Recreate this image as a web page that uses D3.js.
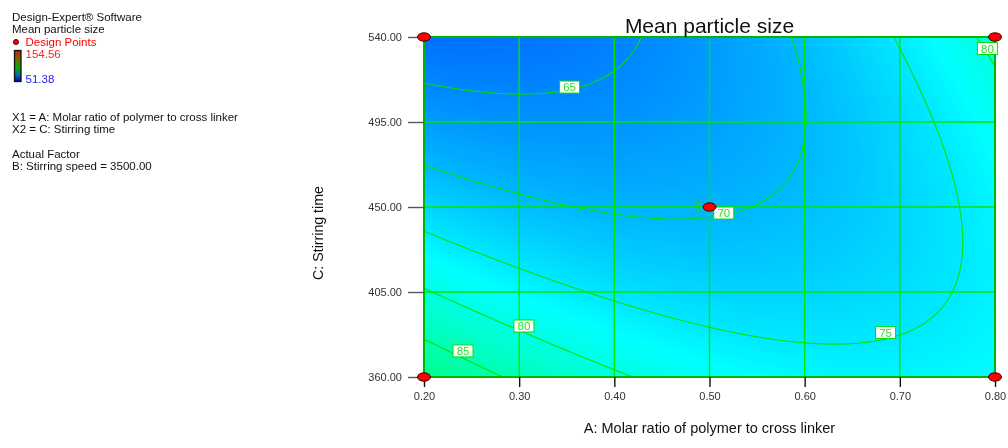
<!DOCTYPE html>
<html>
<head>
<meta charset="utf-8">
<script src="https://cdn.jsdelivr.net/npm/d3@7"></script>
<style>
  html, body { margin: 0; padding: 0; background: #fff; }
  #chart { position: relative; width: 1008px; height: 448px; overflow: hidden;
           font-family: Arial, "Liberation Sans", sans-serif; }
  #chart canvas, #chart svg { position: absolute; left: 0; top: 0; }
</style>
</head>
<body>
<div id="chart"></div>
<script>
// ---- factor ranges and ticks (actual units) ----
const factorA = [0.2, 0.8];            // A: Molar ratio of polymer to cross linker
const factorC = [360, 540];            // C: Stirring time
const ticksA = [0.2, 0.3, 0.4, 0.5, 0.6, 0.7, 0.8];
const ticksC = [360, 405, 450, 495, 540];

// ---- quadratic model in coded factors (B held at 3500) ----
const modelTerms = ["Intercept", "A", "C", "AC", "A^2", "C^2"];
const modelCoef  = [69.65, 1.66, -5.56, 7.58, 5.08, 2.83];

// ---- response colour range ----
const responseRange = [51.38, 154.56];
const contourLevels = [65, 70, 75, 80, 85];

// ---- design points ----
const pointA = [0.2, 0.2, 0.8, 0.8, 0.5];
const pointC = [360, 540, 360, 540, 450];
const pointRuns = [1, 1, 1, 1, 5];

// ---- contour labels ----
const labelLevel = [65, 70, 75, 80, 85, 80];
const labelA = [0.353, 0.515, 0.685, 0.305, 0.241, 0.792];
const labelC = [513.5, 446.8, 383.6, 387.0, 373.8, 533.9];

// ---- legend text ----
const legendLines = ["Design-Expert\u00AE Software", "Mean particle size"];
const factorLines = ["X1 = A: Molar ratio of polymer to cross linker", "X2 = C: Stirring time"];
const actualLines = ["Actual Factor", "B: Stirring speed = 3500.00"];

const W = 1008, H = 448;
const x = d3.scaleLinear().domain(factorA).range([424, 995]);
const y = d3.scaleLinear().domain(factorC).range([377, 37]);
const px0 = x.range()[0], px1 = x.range()[1];
const py0 = y.range()[1], py1 = y.range()[0];

function coded(v, r) { return (2 * v - (r[0] + r[1])) / (r[1] - r[0]); }
function predict(a, c) {
  const u = coded(a, factorA), v = coded(c, factorC);
  const t = [1, u, v, u * v, u * u, v * v];
  return d3.sum(t, (d, i) => d * modelCoef[i]);
}

// colour ramp blue -> cyan -> green -> yellow -> red across the response range
const stops = d3.range(5).map(i => responseRange[0] + i * (responseRange[1] - responseRange[0]) / 4);
const colour = d3.scaleLinear().domain(stops)
  .range(["#0000ff", "#00ffff", "#00ff00", "#ffff00", "#ff0000"]).clamp(true);

const chart = d3.select("#chart");

// ---- filled response surface ----
const canvas = chart.append("canvas").attr("width", W).attr("height", H).node();
const ctx = canvas.getContext("2d");
const lut = d3.range(1024).map(i => d3.rgb(colour(responseRange[0] + i / 1023 * (responseRange[1] - responseRange[0]))));
const iw = Math.round(px1 - px0), ih = Math.round(py1 - py0);
const img = ctx.createImageData(iw, ih);
for (let j = 0; j < ih; j++) {
  const c = y.invert(py0 + j + 0.5);
  for (let i = 0; i < iw; i++) {
    const z = predict(x.invert(px0 + i + 0.5), c);
    const k = Math.max(0, Math.min(1023, Math.round((z - responseRange[0]) / (responseRange[1] - responseRange[0]) * 1023)));
    const col = lut[k], o = (j * iw + i) * 4;
    img.data[o] = col.r; img.data[o + 1] = col.g; img.data[o + 2] = col.b; img.data[o + 3] = 255;
  }
}
ctx.putImageData(img, Math.round(px0), Math.round(py0));

const svg = chart.append("svg").attr("width", W).attr("height", H);

svg.append("defs").append("clipPath").attr("id", "plotClip")
  .append("rect").attr("x", px0).attr("y", py0).attr("width", px1 - px0).attr("height", py1 - py0);

// ---- grid lines ----
const grid = svg.append("g");
grid.selectAll("line.gx").data(ticksA.slice(1, -1)).join("line")
  .attr("x1", d => x(d)).attr("x2", d => x(d)).attr("y1", py0).attr("y2", py1)
  .attr("stroke", "#00e400").attr("stroke-width", 1.4);
grid.selectAll("line.gy").data(ticksC.slice(1, -1)).join("line")
  .attr("y1", d => y(d)).attr("y2", d => y(d)).attr("x1", px0).attr("x2", px1)
  .attr("stroke", "#00e400").attr("stroke-width", 1.4);

// ---- contour lines ----
const step = 2, pad = 4;
const gx0 = px0 - pad, gy0 = py0 - pad;
const nx = Math.round((px1 - px0 + 2 * pad) / step) + 1;
const ny = Math.round((py1 - py0 + 2 * pad) / step) + 1;
const values = new Array(nx * ny);
for (let j = 0; j < ny; j++) {
  const c = y.invert(gy0 + j * step);
  for (let i = 0; i < nx; i++) values[j * nx + i] = predict(x.invert(gx0 + i * step), c);
}
const contours = d3.contours().size([nx, ny]).thresholds(contourLevels)(values);
const toPixels = d3.geoTransform({
  point(cx, cy) { this.stream.point(gx0 + (cx - 0.5) * step, gy0 + (cy - 0.5) * step); }
});
svg.append("g").attr("clip-path", "url(#plotClip)")
  .selectAll("path").data(contours).join("path")
  .attr("d", d3.geoPath(toPixels))
  .attr("fill", "none").attr("stroke", "#00e000").attr("stroke-width", 1.1);

// ---- plot frame ----
svg.append("rect").attr("x", px0).attr("y", py0).attr("width", px1 - px0).attr("height", py1 - py0)
  .attr("fill", "none").attr("stroke", "#00b400").attr("stroke-width", 2);

// ---- contour labels ----
const labels = svg.append("g").selectAll("g").data(labelLevel).join("g")
  .attr("transform", (d, i) => `translate(${x(labelA[i])},${y(labelC[i])})`);
labels.append("rect").attr("x", -10).attr("y", -6).attr("width", 20).attr("height", 12)
  .attr("fill", "#fff").attr("stroke", "#00e000").attr("stroke-width", 1);
labels.append("text").text(d => d).attr("text-anchor", "middle").attr("dy", "0.36em")
  .attr("font-size", 11.5).attr("fill", "#2ee02e");

// ---- axes ----
const yAxis = svg.append("g").attr("transform", `translate(${px0},0)`)
  .call(d3.axisLeft(y).tickValues(ticksC).tickFormat(d3.format(".2f")).tickSize(16).tickPadding(6));
yAxis.select(".domain").remove();
yAxis.selectAll("line").attr("stroke", "#555").attr("stroke-width", 1.4);
yAxis.selectAll("text").attr("font-size", 11).attr("fill", "#333").attr("font-family", "Arial, 'Liberation Sans', sans-serif");

const xAxis = svg.append("g").attr("transform", `translate(0,${py1})`)
  .call(d3.axisBottom(x).tickValues(ticksA).tickFormat(d3.format(".2f")).tickSize(10).tickPadding(5));
xAxis.select(".domain").remove();
xAxis.selectAll("line").attr("stroke", "#111").attr("stroke-width", 1.4);
xAxis.selectAll("text").attr("font-size", 11).attr("fill", "#333").attr("font-family", "Arial, 'Liberation Sans', sans-serif");

// ---- design points ----
svg.append("g").selectAll("ellipse").data(pointA).join("ellipse")
  .attr("cx", d => x(d)).attr("cy", (d, i) => y(pointC[i]))
  .attr("rx", 6.5).attr("ry", 4.2).attr("fill", "#ff0000").attr("stroke", "#300").attr("stroke-width", 1);
svg.append("g").selectAll("text").data(pointRuns.map((r, i) => ({ r, i })).filter(d => d.r > 1)).join("text")
  .attr("x", d => x(pointA[d.i]) - 8).attr("y", d => y(pointC[d.i])).attr("dy", "0.36em")
  .attr("text-anchor", "end").attr("font-size", 12).attr("fill", "#22cc22").text(d => d.r);

// ---- titles ----
svg.append("text").attr("x", (px0 + px1) / 2).attr("y", 33).attr("text-anchor", "middle")
  .attr("font-size", 21).attr("fill", "#111").text("Mean particle size");
svg.append("text").attr("x", (px0 + px1) / 2).attr("y", 433).attr("text-anchor", "middle")
  .attr("font-size", 14.5).attr("fill", "#111").text("A: Molar ratio of polymer to cross linker");
svg.append("text").attr("transform", "translate(323,233) rotate(-90)").attr("text-anchor", "middle")
  .attr("font-size", 14.2).attr("fill", "#111").text("C: Stirring time");

// ---- legend block ----
const leg = svg.append("g").attr("font-size", 11.5).attr("fill", "#111");
leg.selectAll("text.l1").data(legendLines).join("text")
  .attr("x", 12).attr("y", (d, i) => 21 + i * 12).text(d => d);
leg.append("circle").attr("cx", 16).attr("cy", 42).attr("r", 2.6).attr("fill", "#e00").attr("stroke", "#300").attr("stroke-width", 0.8);
leg.append("text").attr("x", 25.5).attr("y", 45.5).attr("fill", "#ff0000").text("Design Points");

const grad = svg.select("defs").append("linearGradient").attr("id", "legendRamp")
  .attr("x1", 0).attr("y1", 0).attr("x2", 0).attr("y2", 1);
[["0%", "#d81800"], ["30%", "#707000"], ["55%", "#00b000"], ["80%", "#006a9a"], ["100%", "#0000d8"]]
  .forEach(s => grad.append("stop").attr("offset", s[0]).attr("stop-color", s[1]));
leg.append("rect").attr("x", 14.5).attr("y", 50.5).attr("width", 6.5).attr("height", 31)
  .attr("fill", "url(#legendRamp)").attr("stroke", "#111").attr("stroke-width", 1.3);
leg.append("text").attr("x", 25.5).attr("y", 57.5).attr("fill", "#ff2020").text(d3.format(".2f")(responseRange[1]));
leg.append("text").attr("x", 25.5).attr("y", 82.5).attr("fill", "#2020ff").text(d3.format(".2f")(responseRange[0]));

leg.selectAll("text.l2").data(factorLines).join("text")
  .attr("x", 12).attr("y", (d, i) => 120.7 + i * 12).text(d => d);
leg.selectAll("text.l3").data(actualLines).join("text")
  .attr("x", 12).attr("y", (d, i) => 157.7 + i * 12.3).text(d => d);
</script>
</body>
</html>
